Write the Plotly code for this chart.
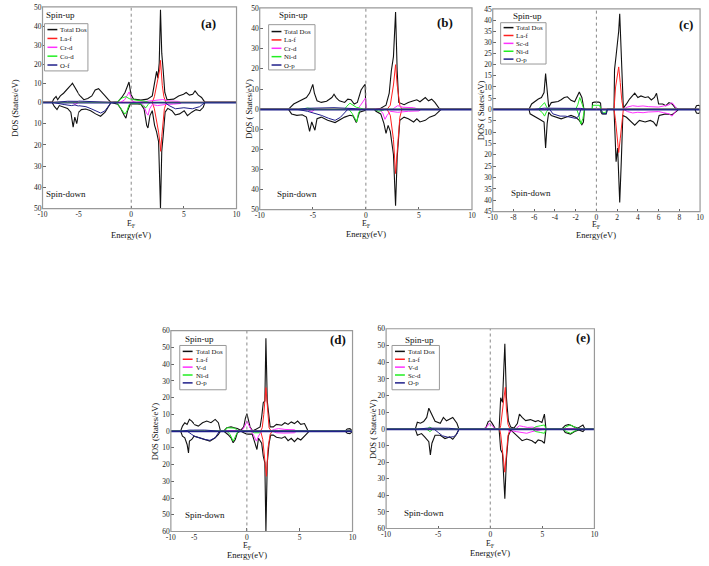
import plotly.graph_objects as go

W, H = 709, 566
FONT = "Liberation Serif"

COLORS = ["#111111", "#ff2020", "#ff30ff", "#22ee22", "#20208a"]
WIDTHS = [1.1, 1.0, 1.0, 1.0, 1.0]

# ---------------- panel (a) ----------------
a_labels = ["Total Dos", "La-f", "Cr-d", "Co-d", "O-f"]
a_total_up = [(-8.67, 0), (-8.45, 1.7), (-8.12, 3.1), (-7.9, 1.4), (-7.53, 3.4), (-7.08, 4.8), (-6.6, 6.5),
              (-6.16, 8.6), (-5.85, 10), (-5.5, 7.7), (-5.16, 5.2), (-4.8, 3.1), (-4.5, 1.4), (-4.12, 2.1),
              (-3.74, 3.4), (-3.42, 6.5), (-3.1, 7.2), (-2.8, 5.6), (-2.48, 3.4), (-2.17, 1.4), (-1.92, 0),
              (-1.28, 0.3), (-0.9, 2.6), (-0.59, 5.2), (-0.34, 8.6), (-0.21, 10.7), (-0.03, 4.3), (0.22, 1.7),
              (0.91, 1.2), (1.53, 1.7), (2.0, 3.4), (2.22, 10.3), (2.41, 16.3), (2.53, 12.7), (2.66, 20.6),
              (2.78, 48.5), (2.9, 25.8), (3.03, 17.2), (3.19, 5.2), (3.4, 1.4), (4.03, 1.7), (4.5, 3.4),
              (4.97, 4.3), (5.22, 5.2), (5.53, 3.8), (5.84, 4.3), (6.06, 6.0), (6.37, 3.8), (6.68, 2.6), (7.0, 0)]
a_total_dn = [(-8.67, 0), (-8.36, -1.9), (-7.99, -3.4), (-7.67, -1.5), (-7.08, -2.3), (-6.53, -2.8), (-6.07, -4.6),
              (-5.75, -11.6), (-5.52, -6.9), (-5.25, -10), (-4.98, -4.6), (-4.73, -3.4), (-4.32, -3.1), (-3.85, -3.9),
              (-3.38, -5.4), (-2.91, -6.5), (-2.48, -4.6), (-2.17, -2.3), (-1.92, 0), (-1.28, -0.8), (-0.97, -3.1),
              (-0.66, -6.2), (-0.5, -7.4), (-0.34, -3.9), (-0.09, -0.8), (0.28, -0.6), (0.91, -0.8), (1.22, -3.1),
              (1.47, -10.8), (1.59, -12), (1.78, -6.2), (2.0, -3.9), (2.22, -10.8), (2.41, -13.9), (2.6, -18.5),
              (2.78, -50), (2.9, -23), (3.03, -16), (3.22, -4.6), (3.47, -2.8), (3.87, -3.9), (4.18, -5.9),
              (4.59, -5.4), (5.03, -3.9), (5.34, -6.2), (5.75, -4.6), (6.16, -3.4), (6.53, -3.9), (6.84, -2.3), (7.0, 0)]
a_laf_up = [(2.0, 0), (2.2, 3), (2.4, 8), (2.55, 12), (2.7, 17), (2.78, 22), (2.85, 16), (2.95, 9), (3.1, 3), (3.3, 0)]
a_laf_dn = [(2.0, 0), (2.2, -3), (2.4, -8), (2.6, -14), (2.75, -20), (2.8, -23), (2.9, -16), (3.0, -9), (3.15, -3), (3.35, 0)]
a_m_up = [(-1.0, 0), (-0.6, 1.5), (-0.35, 4), (-0.2, 5.5), (-0.05, 3), (0.15, 0.5), (0.5, 0), (1.5, 0.5), (2.5, 1),
          (3.0, 1.5), (3.5, 0.8), (4.5, 0.5), (4.7, 0)]
a_m_dn = [(-5.8, 0), (-5.5, -1), (-5.0, 0), (0.9, 0), (1.2, -1.5), (1.45, -5), (1.6, -6), (1.75, -3), (2.0, -1),
          (2.5, -1.5), (3.2, -1), (4.0, -0.8), (4.7, -0.5), (4.8, 0)]
a_g_up = [(-1.4, 0), (-1.1, 1.5), (-0.8, 2.5), (-0.5, 3), (-0.2, 2), (0.1, 1.5), (0.5, 1.2), (1.0, 1), (1.4, 0.5), (1.7, 0)]
a_g_dn = [(-1.4, 0), (-1.1, -2), (-0.8, -4), (-0.6, -5.5), (-0.4, -4), (-0.2, -1), (0.0, -0.5), (0.8, -0.5),
          (1.1, -1.5), (1.4, -2.5), (1.6, -1), (1.8, 0)]
a_o_up = [(-8.5, 0), (-6.5, 0.6), (-5.5, 0.8), (-4.0, 0.5), (-2.0, 0.3), (-1.8, 0)]
a_o_dn = [(-8.6, 0), (-7.0, -1), (-6.0, -1.5), (-5.5, -1.2), (-4.8, -1.5), (-4.3, -2), (-3.8, -3), (-3.3, -4),
          (-2.9, -5), (-2.5, -4), (-2.2, -2), (-1.9, 0), (3.2, 0), (3.6, -1.5), (4.2, -3), (5.0, -2.5), (5.8, -3),
          (6.5, -2), (7.0, 0)]

# ---------------- panel (b) ----------------
b_labels = ["Total Dos", "La-f", "Cr-d", "Ni-d", "O-p"]
b_total_up = [(-7.3, 0), (-6.8, 2.6), (-6.5, 3.4), (-6.2, 4.2), (-5.9, 5), (-5.6, 5.8), (-5.3, 8), (-5.0, 12.3),
              (-4.85, 8), (-4.6, 4.2), (-4.2, 3.4), (-3.7, 4), (-3.2, 5.8), (-3.0, 7.4), (-2.8, 5.8), (-2.5, 4.2),
              (-2.0, 3.4), (-1.7, 5), (-1.4, 4.7), (-1.1, 2.6), (-0.8, 3.4), (-0.45, 9.5), (-0.2, 11.5),
              (-0.07, 12.3), (0.0, 0), (0.8, 0), (1.4, 0.5), (1.9, 2), (2.2, 8), (2.4, 19), (2.6, 26), (2.8, 48),
              (2.95, 19), (3.1, 3.4), (3.6, 2.3), (4.0, 3.4), (4.5, 4.2), (4.8, 4.7), (5.1, 3.7), (5.6, 5.8),
              (5.9, 4.2), (6.2, 5), (6.5, 3.4), (6.9, 0.5), (7.1, 0)]
b_total_dn = [(-7.3, 0), (-7.0, -2.3), (-6.5, -3), (-6.0, -2.7), (-5.6, -3.9), (-5.3, -11), (-5.1, -6.3),
              (-4.8, -10.4), (-4.6, -4.7), (-4.2, -3.9), (-3.6, -5.5), (-2.9, -6.6), (-2.5, -5.5), (-2.0, -3.9),
              (-1.5, -3), (-1.2, -3.3), (-0.9, -6.6), (-0.6, -1.4), (-0.1, -0.6), (0.0, 0), (0.8, 0), (0.95, -1),
              (1.4, -2.3), (1.7, -7), (1.9, -12), (2.1, -8), (2.3, -11), (2.6, -22.5), (2.8, -48), (2.95, -24),
              (3.2, -5.5), (3.6, -3.9), (4.0, -4.7), (4.5, -6.3), (4.8, -4.7), (5.1, -6.3), (5.6, -5.5),
              (6.0, -3.9), (6.5, -3), (7.0, -0.6), (7.1, 0)]
b_laf_up = [(2.0, 0), (2.3, 2), (2.6, 12), (2.8, 22), (2.95, 12), (3.2, 2), (3.4, 0)]
b_laf_dn = [(2.0, 0), (2.3, -3), (2.6, -15), (2.8, -32), (2.95, -20), (3.2, -4), (3.4, 0)]
b_m_up = [(-0.8, 0), (-0.5, 2), (-0.2, 4), (-0.05, 5.5), (0.05, 0.5), (0.2, 0), (2.5, 0), (3.0, 1.8), (3.5, 1),
          (4.5, 0.8), (5.0, 0)]
b_m_dn = [(-5.5, 0), (-5.1, -1.2), (-4.8, 0), (1.3, 0), (1.6, -2), (1.8, -5), (2.0, -3), (2.3, -1), (3.0, -1.5),
          (4.0, -1), (5.0, -0.8), (5.2, 0)]
b_g_up = [(-6.2, 0), (-5.5, 0.6), (-4.8, 0), (-2.0, 0), (-1.8, 1.5), (-1.5, 3), (-1.2, 2), (-0.9, 1), (-0.5, 0.5), (-0.2, 0)]
b_g_dn = [(-1.6, 0), (-1.3, -2), (-1.0, -5), (-0.85, -6.3), (-0.7, -2), (-0.5, 0), (0.8, 0), (1.2, -1), (1.6, -0.5), (1.8, 0)]
b_o_up = [(-6.5, 0), (-5.5, 0.5), (-3.0, 0.8), (-1.0, 0.3), (-0.5, 0)]
b_o_dn = [(-6.5, 0), (-5.5, -1), (-4.8, -2), (-4.2, -3), (-3.5, -4.5), (-2.9, -5.5), (-2.4, -4), (-2.0, -2), (-1.7, 0)]

# ---------------- panel (c) ----------------
c_labels = ["Total Dos", "La-f", "Sc-d", "Ni-d", "O-p"]
c_total_up = [(-6.5, 0), (-6.25, 2.4), (-5.9, 3.8), (-5.6, 4.6), (-5.3, 5.3), (-5.05, 7.5), (-4.9, 16),
              (-4.75, 7.5), (-4.6, 0.9), (-4.35, 3), (-4.0, 3.4), (-3.7, 3.5), (-3.4, 4.3), (-3.1, 5.3),
              (-2.8, 5.6), (-2.45, 4), (-2.1, 3.4), (-1.8, 6), (-1.65, 7.8), (-1.4, 5.3), (-1.2, 0), (-0.4, 0),
              (-0.38, 3), (-0.2, 3.2), (0.25, 3.2), (0.4, 2.8), (0.45, 0), (1.7, 0), (1.75, 17.8), (1.9, 24),
              (2.15, 35), (2.25, 42.8), (2.4, 26.6), (2.55, 3), (2.6, 0.5), (2.9, 2.4), (3.2, 4.6), (3.7, 7.2),
              (4.0, 5.3), (4.3, 6), (4.7, 5.3), (5.0, 5.6), (5.3, 4.2), (5.6, 5.3), (5.8, 7.2), (6.0, 2.4),
              (6.4, 2.4), (6.7, 1.6), (7.0, 3), (7.3, 2.4), (7.6, 0.7), (7.9, 0), (9.5, 0), (9.65, 1.6),
              (9.85, 1.8), (10.0, 1.5)]
c_total_dn = [(-6.5, 0), (-6.4, -2), (-5.9, -3.5), (-5.45, -4.5), (-5.05, -5.6), (-4.9, -17), (-4.75, -6.3),
              (-4.6, -1.3), (-4.35, -2.7), (-3.9, -3.5), (-3.4, -4.2), (-2.95, -3.5), (-2.45, -2.7), (-2.0, -3.5),
              (-1.65, -4.9), (-1.4, -6.8), (-1.25, -5.6), (-1.15, 0), (0.4, 0), (0.45, -1.3), (0.55, -2),
              (0.95, -2), (1.05, 0), (1.7, 0), (1.72, -2.7), (1.9, -23), (2.05, -17), (2.25, -41), (2.4, -23),
              (2.55, -2.7), (2.9, -3.5), (3.2, -4.9), (3.7, -7), (4.15, -4.9), (4.7, -5.6), (5.2, -4.9),
              (5.5, -5.6), (5.8, -7.4), (6.05, -2.7), (6.7, -2), (7.3, -2.4), (7.8, -0.6), (7.9, 0), (9.5, 0),
              (9.65, -1.6), (9.85, -1.8), (10.0, -1.5)]
c_laf_up = [(1.7, 0), (1.85, 10), (2.0, 15), (2.15, 19), (2.3, 12), (2.45, 4), (2.6, 0)]
c_laf_dn = [(1.7, 0), (1.85, -5), (2.0, -12), (2.15, -19), (2.3, -13), (2.45, -5), (2.6, 0)]
c_m_up = [(2.6, 0), (3.0, 1), (3.5, 1.6), (4.0, 1.3), (4.5, 1.5), (5.0, 1.2), (5.5, 1.0), (6.0, 1), (6.5, 1.5),
          (7.0, 2), (7.3, 3), (7.6, 1), (7.8, 0)]
c_m_dn = [(2.6, 0), (3.0, -1), (3.5, -1.6), (4.0, -1.3), (4.5, -1.5), (5.0, -1.2), (5.5, -1.0), (6.0, -1),
          (6.5, -1.5), (7.0, -2), (7.3, -3), (7.6, -1), (7.8, 0)]
c_g_up = [(-5.6, 0), (-5.3, 1.5), (-5.0, 3), (-4.8, 1), (-4.6, 0), (-2.0, 0), (-1.8, 2), (-1.6, 5.3), (-1.4, 3),
          (-1.2, 0), (-0.4, 0), (-0.35, 1.8), (0.3, 1.8), (0.45, 0)]
c_g_dn = [(-5.6, 0), (-5.2, -1.5), (-5.0, -3), (-4.8, -1), (-4.6, 0), (-1.9, 0), (-1.7, -2.5), (-1.5, -6.5),
          (-1.3, -4), (-1.15, 0), (0.45, 0), (0.6, -1.5), (0.9, -1.5), (1.0, 0)]
c_o_up = [(-6.0, 0), (-5.0, 0.5), (-3.0, 0.6), (-1.5, 0.4), (-1.0, 0)]
c_o_dn = [(-4.5, 0), (-4.2, -2), (-3.5, -3), (-3.0, -3), (-2.5, -3.5), (-2.0, -4), (-1.7, -3), (-1.5, 0),
          (0.45, 0), (0.6, -2), (0.95, -2), (1.05, 0)]

# ---------------- panel (d) ----------------
d_labels = ["Total Dos", "La-f", "V-d", "Ni-d", "O-p"]
d_total_up = [(-7.9, 0), (-7.5, 3), (-7.0, 5), (-6.5, 4), (-6.0, 7), (-5.5, 6), (-5.0, 4), (-4.6, 3), (-4.2, 5),
              (-3.8, 6), (-3.4, 5), (-3.0, 7), (-2.7, 5), (-2.5, 0), (-2.2, 0), (-1.9, 2), (-1.5, 2.5),
              (-1.2, 2), (-0.9, 1.5), (-0.6, 0.5), (-0.3, 2.5), (-0.15, 7.5), (0.0, 10.4), (0.15, 6.5),
              (0.3, 2.5), (0.55, 0), (1.25, 2.5), (1.4, 8.4), (1.55, 17), (1.7, 18), (1.8, 55.5), (1.93, 18),
              (2.1, 8.4), (2.2, 2.5), (2.5, 2.5), (2.8, 4), (3.3, 3.5), (3.6, 5), (3.9, 4), (4.2, 5.5), (4.5, 4.5),
              (4.8, 6), (5.1, 4), (5.45, 4.5), (5.75, 0.6), (5.9, 0), (9.3, 0), (9.5, 1.3), (9.75, 1.5), (9.9, 0.8)]
d_total_dn = [(-7.9, 0), (-7.5, -3), (-7.0, -4), (-6.5, -8), (-6.2, -13), (-6.0, -6), (-5.5, -5), (-5.0, -3),
              (-4.5, -4), (-4.0, -5), (-3.5, -6), (-3.0, -4), (-2.7, -2), (-2.5, 0), (-2.2, 0), (-1.8, -2),
              (-1.5, -4), (-1.3, -7), (-1.1, -5), (-0.9, -1), (-0.6, 0), (-0.3, -1), (0.0, -1.8), (0.5, -1.8),
              (0.8, -7.3), (0.95, -11), (1.1, -4.3), (1.4, -7.3), (1.55, -15), (1.7, -19), (1.8, -60), (1.93, -19),
              (2.1, -7.3), (2.25, -2.4), (2.5, -2.4), (2.8, -3.7), (3.3, -4.3), (3.6, -3.3), (3.9, -5.7),
              (4.2, -4.3), (4.5, -6.3), (4.8, -4.3), (5.1, -5.3), (5.45, -3.3), (5.75, -1), (5.9, 0), (9.3, 0),
              (9.5, -1.3), (9.75, -1.5), (9.9, -0.8)]
d_laf_up = [(1.3, 0), (1.45, 2), (1.6, 10), (1.8, 26), (1.95, 12), (2.1, 2), (2.3, 0)]
d_laf_dn = [(1.3, 0), (1.5, -5), (1.7, -18), (1.85, -27), (2.0, -10), (2.2, -2), (2.4, 0)]
d_m_up = [(-0.5, 0), (-0.2, 3), (0.0, 6), (0.3, 2), (0.5, 0), (2.2, 0), (2.6, 1), (3.0, 1.5), (3.6, 1), (4.5, 0.8), (4.7, 0)]
d_m_dn = [(0.4, 0), (0.6, -2), (0.9, -6), (1.1, -3), (1.3, -1), (1.5, 0), (2.4, 0), (2.8, -1), (3.5, -1.2), (4.5, -1), (4.7, 0)]
d_g_up = [(-2.1, 0), (-1.9, 2), (-1.5, 2), (-1.2, 1.8), (-1.0, 1), (-0.8, 0)]
d_g_dn = [(-1.9, 0), (-1.6, -2), (-1.3, -6), (-1.0, -2), (-0.8, 0), (0.4, 0), (0.7, -1), (1.2, -1), (1.4, 0)]
d_o_up = [(-7.5, 0), (-6.0, 0.6), (-4.0, 0.6), (-2.6, 0)]
d_o_dn = [(-6.5, 0), (-5.5, -2), (-5.0, -3), (-4.5, -4), (-4.0, -5), (-3.5, -5.5), (-3.0, -4), (-2.6, 0)]

# ---------------- panel (e) ----------------
e_labels = ["Total Dos", "La-f", "V-d", "Sc-d", "O-p"]
e_total_up = [(-7.2, 0), (-7.0, 4.1), (-6.7, 3.5), (-6.4, 4.5), (-6.1, 7), (-5.9, 12.5), (-5.6, 9), (-5.3, 4.7),
              (-4.8, 3.5), (-4.5, 7), (-4.2, 5), (-3.9, 6), (-3.6, 7), (-3.2, 3.5), (-3.0, 0), (-0.6, 0),
              (-0.4, 1.2), (-0.2, 4.5), (0.0, 5.1), (0.2, 3.3), (0.5, 0), (0.85, 0), (1.0, 18.8), (1.17, 16),
              (1.4, 51), (1.55, 19), (1.74, 5), (1.96, 1.2), (2.27, 0.6), (2.6, 3.3), (2.8, 9), (3.06, 7),
              (3.4, 5.1), (3.86, 5.7), (4.33, 4.5), (4.6, 5.1), (4.96, 4), (5.2, 9), (5.35, 0), (6.85, 0),
              (7.2, 2.2), (7.5, 2.7), (7.8, 2.2), (8.1, 1.2), (8.4, 0.6), (8.9, 2.4), (9.1, 0)]
e_total_dn = [(-7.2, 0), (-7.0, -3.7), (-6.6, -2.7), (-6.3, -4.7), (-5.9, -7.6), (-5.75, -15.5), (-5.6, -8.5),
              (-5.3, -3.7), (-4.8, -3.7), (-4.35, -5.7), (-3.9, -4.7), (-3.6, -6.1), (-3.3, -3.7), (-3.0, 0),
              (0.85, 0), (1.0, -12.5), (1.17, -14.5), (1.4, -42), (1.55, -18), (1.74, -4), (1.96, -0.5),
              (2.4, -3), (2.7, -5), (3.06, -7), (3.5, -6), (4.0, -7), (4.33, -8.5), (4.6, -6.5), (4.96, -7.2),
              (5.2, -8.5), (5.35, 0), (7.0, 0), (7.2, -2), (7.7, -3), (8.1, -1.5), (8.5, -0.5), (8.9, -1.5), (9.1, 0)]
e_laf_up = [(0.9, 0), (1.0, 2), (1.15, 12), (1.3, 18), (1.45, 25), (1.55, 12), (1.7, 3), (1.9, 0)]
e_laf_dn = [(0.9, 0), (1.0, -3), (1.2, -15), (1.4, -26), (1.55, -15), (1.7, -4), (1.9, 0)]
e_m_up = [(-0.6, 0), (-0.3, 1.5), (-0.1, 3.5), (0.2, 2), (0.5, 0), (2.4, 0), (2.8, 2), (3.2, 1.5), (3.6, 1),
          (4.0, 1.2), (4.5, 0.8), (5.0, 0.5), (5.2, 0)]
e_m_dn = [(1.7, 0), (1.9, -2), (2.1, -1), (2.5, -1.5), (3.0, -1.8), (3.5, -2.5), (4.0, -1.5), (4.5, -1), (5.0, -0.5), (5.2, 0)]
e_g_up = [(-6.1, 0), (-5.8, 1.2), (-5.5, 0), (4.0, 0), (4.4, 1.5), (4.8, 2), (5.2, 2.5), (5.35, 0), (7.0, 0),
          (7.3, 1.5), (7.7, 2.5), (8.1, 1.2), (8.5, 0)]
e_g_dn = [(-6.1, 0), (-5.8, -1.5), (-5.5, 0), (4.0, 0), (4.4, -1.5), (4.8, -2), (5.2, -2.5), (5.35, 0), (7.0, 0),
          (7.3, -1.5), (7.7, -2.5), (8.1, -1.2), (8.5, 0)]
e_o_up = [(-7.0, 0), (-6.0, 0.6), (-4.0, 0.5), (-3.0, 0)]
e_o_dn = [(-5.4, 0), (-5.0, -2), (-4.6, -4), (-4.0, -5), (-3.5, -4.5), (-3.2, -3), (-3.0, 0)]

# tick label sets
TICKS_5 = [-10, -5, 0, 5, 10]
TICKS_2 = [-10, -8, -6, -4, -2, 0, 2, 4, 6, 8, 10]

PANELS = [
    dict(tag="(a)", labels=a_labels, ytitle="DOS (States/eV)",
         series=[(a_total_up, a_total_dn), (a_laf_up, a_laf_dn), (a_m_up, a_m_dn), (a_g_up, a_g_dn), (a_o_up, a_o_dn)],
         xpx=(38, 74.5, 234.5), ypx=(3, 100, 208), ymax=50, ystep=10, xticks=TICKS_5,
         spin_up=(40, 11), spin_dn=(40, 193), tagpos=(206, 20), leg=(40, 20, 84, 68), leg_rows=(26, 35, 44, 53, 62),
         ylab_x=10, ef_y=(224, 235)),
    dict(tag="(b)", labels=b_labels, ytitle="DOS ( States/eV)",
         series=[(b_total_up, b_total_dn), (b_laf_up, b_laf_dn), (b_m_up, b_m_dn), (b_g_up, b_g_dn), (b_o_up, b_o_dn)],
         xpx=(258, None, 473), ypx=(4, 107, 209), ymax=50, ystep=10, xticks=TICKS_5,
         spin_up=(275, 11), spin_dn=(273, 193), tagpos=(446, 19), leg=(267, 21, 314, 67), leg_rows=(28, 36.5, 45, 53.5, 62),
         ylab_x=247, ef_y=(224, 234)),
    dict(tag="(c)", labels=c_labels, ytitle="DOS ( States/eV)",
         series=[(c_total_up, c_total_dn), (c_laf_up, c_laf_dn), (c_m_up, c_m_dn), (c_g_up, c_g_dn), (c_o_up, c_o_dn)],
         xpx=(494, None, 704), ypx=(5, 107, 211), ymax=45, ystep=5, xticks=TICKS_2,
         spin_up=(512, 12), spin_dn=(510, 192), tagpos=(690, 21), leg=(502, 19, 548, 61), leg_rows=(24, 32, 40, 48, 56),
         ylab_x=482, ef_y=(225, 235)),
    dict(tag="(d)", labels=d_labels, ytitle="DOS (States/eV)",
         series=[(d_total_up, d_total_dn), (d_laf_up, d_laf_dn), (d_m_up, d_m_dn), (d_g_up, d_g_dn), (d_o_up, d_o_dn)],
         xpx=(168, 191.5, 352), ypx=(332, 434, 536), ymax=60, ystep=10, xticks=TICKS_5,
         spin_up=(180, 340), spin_dn=(180, 519), tagpos=(337, 341), leg=(177, 347, 224, 392), leg_rows=(353, 361, 369, 377, 385),
         ylab_x=152, ef_y=(551, 560)),
    dict(tag="(e)", labels=e_labels, ytitle="DOS ( States/eV)",
         series=[(e_total_up, e_total_dn), (e_laf_up, e_laf_dn), (e_m_up, e_m_dn), (e_g_up, e_g_dn), (e_o_up, e_o_dn)],
         xpx=(386, None, 597), ypx=(330, 432, 533), ymax=60, ystep=10, xticks=TICKS_5,
         spin_up=(403, 341), spin_dn=(402, 517), tagpos=(585, 339), leg=(392, 347, 440, 392), leg_rows=(353, 361, 369, 377, 385),
         ylab_x=372, ef_y=(549, 558)),
]


def px(x):
    return x / W


def py(y):
    return 1 - y / H


def trace_xy(up, dn):
    xs = [-10] + [p[0] for p in up] + [10, None, -10] + [p[0] for p in dn] + [10]
    ys = [0] + [p[1] for p in up] + [0, None, 0] + [p[1] for p in dn] + [0]
    return xs, ys


fig = go.Figure()
layout = {}
shapes = []
annots = []
tickfont = dict(family=FONT, size=7.5, color="#222")
k = 0
for P in PANELS:
    xl, xm, xr = P["xpx"]
    yt, y0, yb = P["ypx"]
    ymax, ystep = P["ymax"], P["ystep"]
    xsegs = [(-10, -5, xl, xm), (-5, 10, xm, xr)] if xm else [(-10, 10, xl, xr)]
    ysegs = [("up", 0, ymax, y0, yt), ("dn", -ymax, 0, yb, y0)]
    zero_xaxis = None
    zero_yaxis = None
    for i, (xa, xb, pa, pb) in enumerate(xsegs):
        last_seg = (i == len(xsegs) - 1)
        for kind, ya, yb_, pya, pyb in ysegs:
            k += 1
            sfx = "" if k == 1 else str(k)
            xd = dict(domain=[px(pa), px(pb)], range=[xa, xb], anchor="y" + sfx, showgrid=False,
                      zeroline=False, showline=False, fixedrange=True)
            if kind == "dn":
                if last_seg:
                    tv = [t for t in P["xticks"] if xa <= t <= xb]
                else:
                    tv = [t for t in P["xticks"] if xa <= t < xb]
                xd.update(tickvals=tv, ticktext=[str(t) for t in tv], ticks="inside", ticklen=3,
                          tickcolor="#666", tickfont=tickfont, showticklabels=True)
            else:
                xd.update(showticklabels=False, ticks="")
            yd = dict(domain=[py(pya), py(pyb)], range=[ya, yb_], anchor="x" + sfx, showgrid=False,
                      zeroline=False, showline=False, fixedrange=True)
            if i == 0:
                if kind == "up":
                    tv = list(range(0, ymax + 1, ystep))
                else:
                    tv = list(range(-ymax, 0, ystep))
                yd.update(tickvals=tv, ticktext=[str(abs(t)) for t in tv], ticks="inside", ticklen=3,
                          tickcolor="#666", tickfont=tickfont, showticklabels=True)
            else:
                yd.update(showticklabels=False, ticks="")
            layout["xaxis" + sfx] = xd
            layout["yaxis" + sfx] = yd
            for si, (up, dn) in enumerate(P["series"]):
                xs, ys = trace_xy(up, dn)
                fig.add_trace(go.Scatter(x=xs, y=ys, mode="lines", xaxis="x" + sfx, yaxis="y" + sfx,
                                         line=dict(color=COLORS[si], width=WIDTHS[si]),
                                         showlegend=False, hoverinfo="skip", connectgaps=False))
            if last_seg and kind == "dn":
                zero_xaxis = "x" + sfx
                zero_yaxis = "y" + sfx
    # Fermi level dotted line
    shapes.append(dict(type="line", xref=zero_xaxis, yref="paper", x0=0, x1=0, y0=py(yb), y1=py(yt),
                       line=dict(color="#888", width=1, dash="dot")))
    # zero baseline (O-p colour)
    shapes.append(dict(type="line", xref="paper", yref=zero_yaxis, x0=px(xl), x1=px(xr), y0=0, y1=0,
                       line=dict(color=COLORS[4], width=2.4)))
    # frame
    shapes.append(dict(type="rect", xref="paper", yref="paper", x0=px(xl), x1=px(xr), y0=py(yb), y1=py(yt),
                       line=dict(color="#999", width=1.2)))
    # legend box
    lx0, ly0, lx1, ly1 = P["leg"]
    shapes.append(dict(type="rect", xref="paper", yref="paper", x0=px(lx0), x1=px(lx1), y0=py(ly1), y1=py(ly0),
                       line=dict(color="#999", width=1), fillcolor="white"))
    for si, (lab, ry) in enumerate(zip(P["labels"], P["leg_rows"])):
        shapes.append(dict(type="line", xref="paper", yref="paper", x0=px(lx0 + 3), x1=px(lx0 + 13),
                           y0=py(ry), y1=py(ry), line=dict(color=COLORS[si], width=1.5)))
        annots.append(dict(text=lab, xref="paper", yref="paper", x=px(lx0 + 15), y=py(ry), xanchor="left",
                           yanchor="middle", showarrow=False, borderpad=0,
                           font=dict(family=FONT, size=6.8, color="#111")))
    # texts
    annots.append(dict(text="Spin-up", xref="paper", yref="paper", x=px(P["spin_up"][0]), y=py(P["spin_up"][1]),
                       xanchor="left", yanchor="middle", showarrow=False, font=dict(family=FONT, size=9, color="#111")))
    annots.append(dict(text="Spin-down", xref="paper", yref="paper", x=px(P["spin_dn"][0]), y=py(P["spin_dn"][1]),
                       xanchor="left", yanchor="middle", showarrow=False, font=dict(family=FONT, size=9, color="#111")))
    annots.append(dict(text="<b>%s</b>" % P["tag"], xref="paper", yref="paper", x=px(P["tagpos"][0]),
                       y=py(P["tagpos"][1]), xanchor="center", yanchor="middle", showarrow=False,
                       font=dict(family=FONT, size=13, color="#111")))
    annots.append(dict(text=P["ytitle"], xref="paper", yref="paper", x=px(P["ylab_x"]), y=py((yt + yb) / 2),
                       textangle=-90, xanchor="center", yanchor="middle", showarrow=False,
                       font=dict(family=FONT, size=8.5, color="#111")))
    annots.append(dict(text="E<sub>F</sub>", xref=zero_xaxis, yref="paper", x=0, y=py(P["ef_y"][0]),
                       xanchor="center", yanchor="middle", showarrow=False, borderpad=0,
                       font=dict(family=FONT, size=8, color="#111")))
    annots.append(dict(text="Energy(eV)", xref=zero_xaxis, yref="paper", x=0, y=py(P["ef_y"][1]),
                       xanchor="center", yanchor="middle", showarrow=False, borderpad=0,
                       font=dict(family=FONT, size=8.5, color="#111")))

fig.update_layout(**layout)
fig.update_layout(width=W, height=H, autosize=False, margin=dict(l=0, r=0, t=0, b=0),
                  paper_bgcolor="white", plot_bgcolor="white", showlegend=False,
                  shapes=shapes, annotations=annots)
fig.write_html("out.html", config={"displayModeBar": False, "staticPlot": True},
               post_script="document.body.style.margin='0';document.body.style.overflow='hidden';")
